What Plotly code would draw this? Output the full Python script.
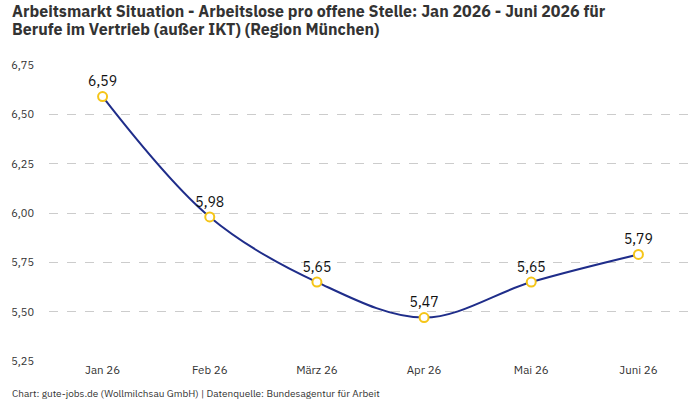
import plotly.graph_objects as go

months = ["Jan 26", "Feb 26", "März 26", "Apr 26", "Mai 26", "Juni 26"]
values = [6.59, 5.98, 5.65, 5.47, 5.65, 5.79]
y_ticks = [5.25, 5.50, 5.75, 6.00, 6.25, 6.50, 6.75]
title_lines = [
    "Arbeitsmarkt Situation - Arbeitslose pro offene Stelle: Jan 2026 - Juni 2026 für",
    "Berufe im Vertrieb (außer IKT) (Region München)",
]

FONT = "IBM Plex Sans, Noto Sans, sans-serif"
L, R, T, B = 49, 8, 65, 39
PW, PH = 700 - L - R, 400 - T - B

fig = go.Figure()
fig.add_trace(go.Scatter(
    x=months, y=values,
    mode="lines+markers+text",
    line=dict(color="#1f2d8a", width=2, shape="spline", smoothing=1),
    marker=dict(size=9, color="white", line=dict(color="#f5c518", width=2)),
    text=[f"{v:.2f}".replace(".", ",") for v in values],
    textposition="top center",
    textfont=dict(size=14, color="#111", family=FONT),
    cliponaxis=False,
    hoverinfo="skip",
))

fig.update_layout(
    width=700, height=400,
    margin=dict(l=L, r=R, t=T, b=B),
    paper_bgcolor="white", plot_bgcolor="white",
    separators=",.",
    font=dict(family=FONT, color="#333", size=11),
    showlegend=False,
    xaxis=dict(
        type="category", range=[-0.5, 5.5], showgrid=False, zeroline=False,
        showline=False, ticks="", tickfont=dict(size=11.5, color="#333"),
    ),
    yaxis=dict(
        range=[5.25, 6.75], tickvals=y_ticks, tickformat=".2f",
        showgrid=True, gridcolor="#cccccc", griddash="dash", gridwidth=1,
        zeroline=False, showline=False, ticks="", ticklabelstandoff=14,
        tickfont=dict(size=11, color="#333"),
    ),
)

for i, line in enumerate(title_lines):
    ypix = 11 + 18 * i
    fig.add_annotation(
        text=f"<b>{line}</b>",
        xref="paper", yref="paper", x=(10 - L) / PW, y=1 + (T - ypix) / PH,
        xanchor="left", yanchor="middle", align="left", showarrow=False,
        font=dict(size=16, color="#333", family=FONT),
    )

fig.add_annotation(
    text="Chart: gute-jobs.de (Wollmilchsau GmbH) | Datenquelle: Bundesagentur für Arbeit",
    xref="paper", yref="paper", x=(10 - L) / PW, y=0, xanchor="left", yanchor="middle",
    yshift=-32, showarrow=False, font=dict(size=10, color="#333", family=FONT),
)

fig.write_html("out.html")
